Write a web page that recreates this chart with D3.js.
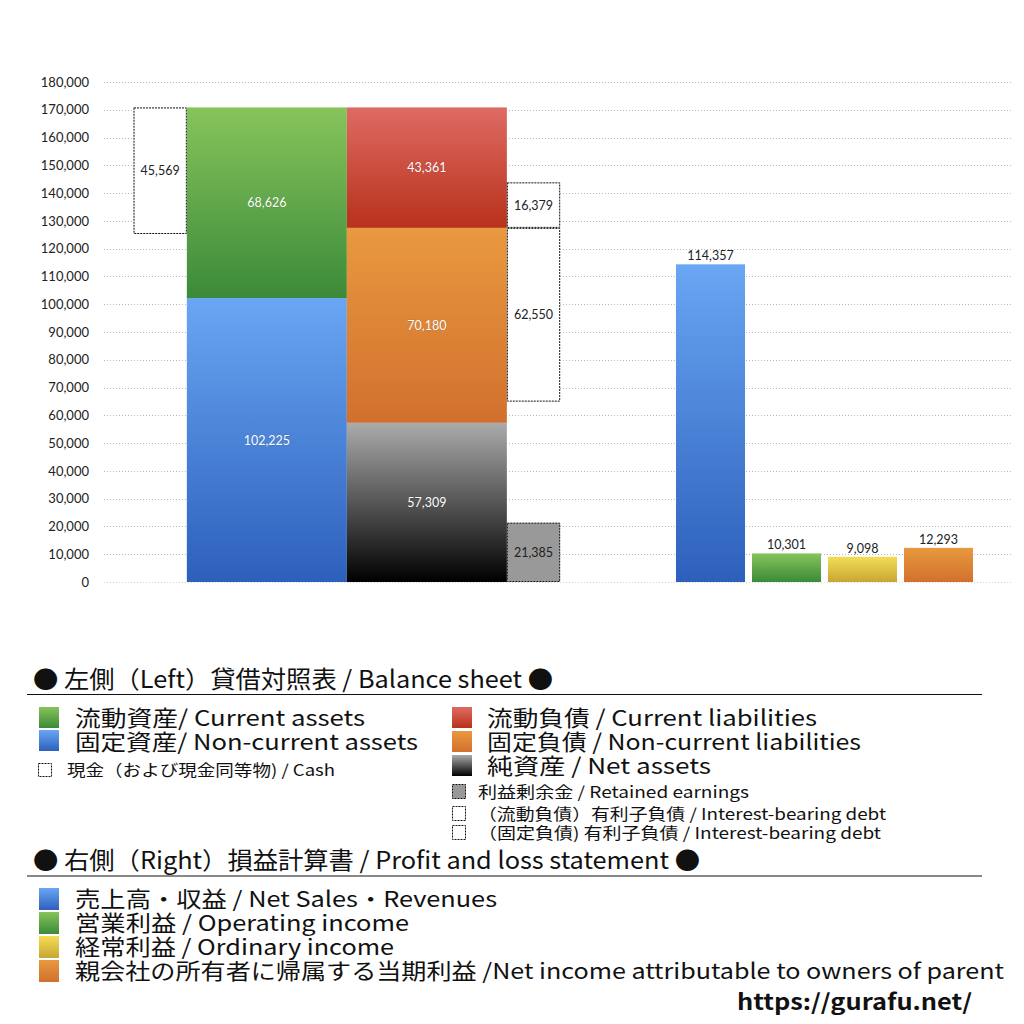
<!DOCTYPE html>
<html>
<head>
<meta charset="utf-8">
<script src="https://cdn.jsdelivr.net/npm/d3@7"></script>
<style>
  body { margin: 0; background: #fff; }
  svg { display: block; }
</style>
</head>
<body>
<script>
// ---- balance sheet (left) ----
var assetNames = ['固定資産', '流動資産'];
var assetValues = [102225, 68626];
var liabilityNames = ['純資産', '固定負債', '流動負債'];
var liabilityValues = [57309, 70180, 43361];
var cashValue = 45569;
var retainedValue = 21385;
var debtNames = ['固定負債有利子負債', '流動負債有利子負債'];
var debtValues = [62550, 16379];

// ---- profit and loss (right) ----
var plNames = ['売上高', '営業利益', '経常利益', '当期利益'];
var plValues = [114357, 10301, 9098, 12293];

var yTicks = [0, 10000, 20000, 30000, 40000, 50000, 60000, 70000, 80000, 90000,
              100000, 110000, 120000, 130000, 140000, 150000, 160000, 170000, 180000];

// ---- legend texts ----
var header1 = '● 左側（Left）貸借対照表 / Balance sheet ●';
var legendAssets = ['流動資産/ Current assets', '固定資産/ Non-current assets'];
var legendCash = '現金（および現金同等物) / Cash';
var legendLiabilities = ['流動負債 /  Current liabilities', '固定負債 / Non-current liabilities', '純資産 / Net assets'];
var legendSmall = ['利益剰余金 / Retained earnings', '（流動負債）有利子負債 / Interest-bearing debt', '（固定負債) 有利子負債 / Interest-bearing debt'];
var header2 = '● 右側（Right）損益計算書 / Profit and loss statement ●';
var legendPL = ['売上高・収益 / Net Sales・Revenues', '営業利益 / Operating income', '経常利益 / Ordinary income',
                '親会社の所有者に帰属する当期利益 /Net income attributable to owners of parent'];
var sourceText = 'https://gurafu.net/';

var GRADS = {
  green:  ['#87c45b', '#3b8a39'],
  blue:   ['#69a6f3', '#2d60bc'],
  red:    ['#de6b63', '#b8311b'],
  orange: ['#e9993f', '#d1702e'],
  net:    ['#ababab', '#000000'],
  yellow: ['#f3dd57', '#c8a633']
};
var colorOf = {
  '固定資産': 'blue', '流動資産': 'green',
  '純資産': 'net', '固定負債': 'orange', '流動負債': 'red',
  '売上高': 'blue', '営業利益': 'green', '経常利益': 'yellow', '当期利益': 'orange'
};

var numFont = 'Lato, "DejaVu Sans", sans-serif';
var jpFont = '"Noto Sans CJK JP", "Noto Sans", sans-serif';
var fmt = d3.format(',');

var svg = d3.select('body').append('svg')
    .attr('width', 1024)
    .attr('height', 1024);

var defs = svg.append('defs');
Object.keys(GRADS).forEach(function(k) {
  var g = defs.append('linearGradient')
      .attr('id', 'g-' + k)
      .attr('x1', 0).attr('y1', 0).attr('x2', 0).attr('y2', 1);
  g.append('stop').attr('offset', '0%').attr('stop-color', GRADS[k][0]);
  g.append('stop').attr('offset', '100%').attr('stop-color', GRADS[k][1]);
});

// scales
var y = d3.scaleLinear().domain([0, 180000]).range([582, 82]);
// left group in column units: cash [0,1], assets [1,4], liabilities [4,7], side boxes [7,8]
var xLeft = d3.scaleLinear().domain([0, 8]).range([133.5, 560.2]);
var xRight = d3.scaleBand().domain(plNames).range([676, 973]).paddingInner(0.092);

// gridlines
svg.append('g')
  .selectAll('line')
  .data(yTicks)
  .enter()
  .append('line')
    .attr('x1', 104).attr('x2', 1012)
    .attr('y1', function(d) { return Math.round(y(d)) + 0.5; })
    .attr('y2', function(d) { return Math.round(y(d)) + 0.5; })
    .attr('stroke', function(d) { return d === 0 ? '#d4d4d4' : '#b8b8b8'; })
    .attr('stroke-width', 1)
    .attr('stroke-dasharray', '1,2');

// y axis
var yAxis = svg.append('g')
    .attr('transform', 'translate(95,0)')
    .call(d3.axisLeft(y).tickValues(yTicks).tickSize(0).tickPadding(6).tickFormat(fmt));
yAxis.select('.domain').remove();
yAxis.selectAll('text')
    .attr('font-family', numFont)
    .attr('font-size', 13)
    .attr('fill', '#222');

// stacked segments
function stack(names, values) {
  var tops = d3.cumsum(values);
  return names.map(function(n, i) {
    return { name: n, value: values[i], y0: tops[i] - values[i], y1: tops[i] };
  });
}
var assets = stack(assetNames, assetValues);
var liabilities = stack(liabilityNames, liabilityValues);

function drawStack(data, c0, c1) {
  svg.append('g')
    .selectAll('rect')
    .data(data)
    .enter()
    .append('rect')
      .attr('x', xLeft(c0))
      .attr('width', xLeft(c1) - xLeft(c0))
      .attr('y', function(d) { return y(d.y1); })
      .attr('height', function(d) { return y(d.y0) - y(d.y1); })
      .attr('fill', function(d) { return 'url(#g-' + colorOf[d.name] + ')'; });

  svg.append('g')
    .selectAll('text')
    .data(data)
    .enter()
    .append('text')
      .attr('x', (xLeft(c0) + xLeft(c1)) / 2)
      .attr('y', function(d) { return y((d.y0 + d.y1) / 2) + 4.5; })
      .attr('text-anchor', 'middle')
      .attr('font-family', numFont)
      .attr('font-size', 12.5)
      .attr('fill', '#fff')
      .attr('stroke', 'rgba(0,0,0,0.25)')
      .attr('stroke-width', 0.6)
      .attr('paint-order', 'stroke')
      .text(function(d) { return fmt(d.value); });
}
drawStack(assets, 1, 4);
drawStack(liabilities, 4, 7);

// dotted boxes (cash, retained earnings, interest-bearing debt)
var assetTop = d3.sum(assetValues);
var orangeTop = liabilities[1].y1;
var boxes = [
  { value: cashValue, y0: assetTop - cashValue, y1: assetTop, c0: 0, c1: 1, fill: '#fff' },
  { value: retainedValue, y0: 0, y1: retainedValue, c0: 7, c1: 8, fill: '#999' },
  { value: debtValues[0], y0: orangeTop - debtValues[0], y1: orangeTop, c0: 7, c1: 8, fill: '#fff' },
  { value: debtValues[1], y0: orangeTop, y1: orangeTop + debtValues[1], c0: 7, c1: 8, fill: '#fff' }
];
var boxG = svg.append('g');
boxG.selectAll('rect')
  .data(boxes)
  .enter()
  .append('rect')
    .attr('x', function(d) { return xLeft(d.c0) + 0.5; })
    .attr('width', function(d) { return xLeft(d.c1) - xLeft(d.c0) - 1; })
    .attr('y', function(d) { return y(d.y1) + 0.5; })
    .attr('height', function(d) { return y(d.y0) - y(d.y1) - 1; })
    .attr('fill', function(d) { return d.fill; })
    .attr('stroke', '#111')
    .attr('stroke-width', 1)
    .attr('stroke-dasharray', '2,1');
boxG.selectAll('text')
  .data(boxes)
  .enter()
  .append('text')
    .attr('x', function(d) { return (xLeft(d.c0) + xLeft(d.c1)) / 2; })
    .attr('y', function(d) { return y((d.y0 + d.y1) / 2) + 4.5; })
    .attr('text-anchor', 'middle')
    .attr('font-family', numFont)
    .attr('font-size', 12.5)
    .attr('fill', '#222')
    .text(function(d) { return fmt(d.value); });

// P/L bars
var plData = plNames.map(function(n, i) { return { name: n, value: plValues[i] }; });
svg.append('g')
  .selectAll('rect')
  .data(plData)
  .enter()
  .append('rect')
    .attr('x', function(d) { return xRight(d.name); })
    .attr('width', xRight.bandwidth())
    .attr('y', function(d) { return y(d.value); })
    .attr('height', function(d) { return y(0) - y(d.value); })
    .attr('fill', function(d) { return 'url(#g-' + colorOf[d.name] + ')'; });
svg.append('g')
  .selectAll('text')
  .data(plData)
  .enter()
  .append('text')
    .attr('x', function(d) { return xRight(d.name) + xRight.bandwidth() / 2; })
    .attr('y', function(d) { return y(d.value) - 4; })
    .attr('text-anchor', 'middle')
    .attr('font-family', numFont)
    .attr('font-size', 12.5)
    .attr('fill', '#222')
    .text(function(d) { return fmt(d.value); });

// ---- legend ----
function label(x, yb, size, len, txt, weight) {
  return svg.append('text')
      .attr('x', x).attr('y', yb)
      .attr('font-family', jpFont)
      .attr('font-size', size)
      .attr('font-weight', weight || 400)
      .attr('fill', '#111')
      .attr('textLength', len)
      .attr('lengthAdjust', 'spacingAndGlyphs')
      .text(txt);
}
function swatch(x, yt, w, h, fill, dotted) {
  svg.append('rect')
      .attr('x', x + (dotted ? 0.5 : 0)).attr('y', yt + (dotted ? 0.5 : 0))
      .attr('width', w).attr('height', h)
      .attr('fill', fill)
      .attr('stroke', dotted ? '#111' : 'none')
      .attr('stroke-dasharray', dotted ? '2,1' : null);
}

label(33, 688, 24, 520, header1);
svg.append('line').attr('x1', 27).attr('x2', 982).attr('y1', 694.5).attr('y2', 694.5)
    .attr('stroke', '#111').attr('stroke-width', 1);

var assetLegendColors = ['green', 'blue'];
var assetLegendLen = [290, 343];
legendAssets.forEach(function(t, i) {
  swatch(39, 707 + i * 23, 20, 21, 'url(#g-' + assetLegendColors[i] + ')');
  label(75, 726 + i * 24, 22, assetLegendLen[i], t);
});
swatch(38, 763, 13, 13, '#fff', true);
label(67, 776, 16, 268, legendCash);

var liabLegendColors = ['red', 'orange', 'net'];
var liabLegendLen = [330, 374, 224];
legendLiabilities.forEach(function(t, i) {
  swatch(452, 707 + i * 24, 20, 21, 'url(#g-' + liabLegendColors[i] + ')');
  label(487, 726 + i * 24, 22, liabLegendLen[i], t);
});
var smallFills = ['#999', '#fff', '#fff'];
var smallLen = [271, 408, 403];
var smallY = [784, 806, 825];
legendSmall.forEach(function(t, i) {
  swatch(452, smallY[i], 13, 14, smallFills[i], true);
  label(478, smallY[i] + 14, 16, smallLen[i], t);
});

label(33, 869, 24, 667, header2);
svg.append('line').attr('x1', 27).attr('x2', 982).attr('y1', 876).attr('y2', 876)
    .attr('stroke', '#888').attr('stroke-width', 2);

var plLegendColors = ['blue', 'green', 'yellow', 'orange'];
var plLegendLen = [422, 334, 319, 929];
legendPL.forEach(function(t, i) {
  swatch(39, 888 + i * 24, 20, 22, 'url(#g-' + plLegendColors[i] + ')');
  label(75, 907 + i * 24, 21.5, plLegendLen[i], t);
});

label(737, 1010, 22, 235, sourceText, 700);
</script>
</body>
</html>
